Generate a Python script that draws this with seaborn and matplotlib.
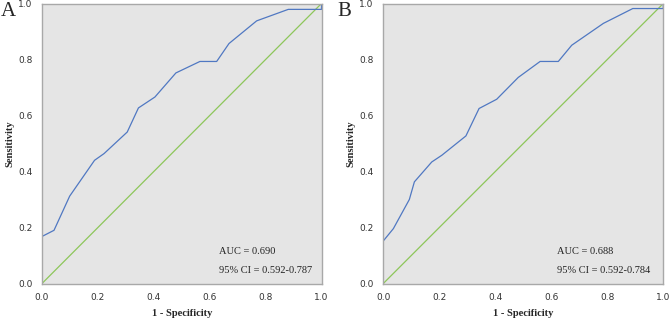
import matplotlib
matplotlib.use("Agg")
import matplotlib.pyplot as plt
import seaborn as sns
import pandas as pd

# ---- data ----
fpr_a = [0.0, 0.0, 0.043, 0.099, 0.188, 0.222, 0.305, 0.345, 0.404, 0.479, 0.565, 0.625, 0.669, 0.768, 0.881, 1.0, 1.0]
tpr_a = [0.0, 0.168, 0.190, 0.312, 0.440, 0.464, 0.541, 0.627, 0.666, 0.752, 0.793, 0.793, 0.857, 0.938, 0.979, 0.979, 1.0]
fpr_b = [0.0, 0.0, 0.036, 0.093, 0.111, 0.173, 0.209, 0.295, 0.342, 0.405, 0.482, 0.560, 0.625, 0.673, 0.786, 0.891, 1.0, 1.0]
tpr_b = [0.0, 0.152, 0.196, 0.300, 0.363, 0.434, 0.458, 0.527, 0.625, 0.658, 0.736, 0.793, 0.793, 0.851, 0.929, 0.982, 0.982, 1.0]
ref_line = [0.0, 1.0]
panels = ["A", "B"]
auc_text = ["AUC = 0.690", "AUC = 0.688"]
ci_text = ["95% CI = 0.592-0.787", "95% CI = 0.592-0.784"]
ticks = [0.0, 0.2, 0.4, 0.6, 0.8, 1.0]
tick_labels = ["0.0", "0.2", "0.4", "0.6", "0.8", "1.0"]

sns.set_style("white", {"axes.facecolor": "#E5E5E5", "axes.edgecolor": "#A8A8A8"})
plt.rcParams["font.family"] = ["DejaVu Sans"]

fig = plt.figure(figsize=(6.69, 3.2), dpi=100)
ax_a = fig.add_axes([42 / 669, 1 - 283.5 / 320, 279.5 / 669, 280 / 320])
ax_b = fig.add_axes([383.3 / 669, 1 - 283.5 / 320, 280 / 669, 280 / 320])

curves = [(fpr_a, tpr_a), (fpr_b, tpr_b)]
letter_x = [1 / 669, 337 / 669]
for i, ax in enumerate([ax_a, ax_b]):
    fx, ty = curves[i]
    df = pd.DataFrame({"fpr": fx, "tpr": ty})
    sns.lineplot(x=ref_line, y=ref_line, ax=ax, color="#8DC65A", lw=0.9, sort=False)
    sns.lineplot(data=df, x="fpr", y="tpr", ax=ax, color="#5078C2", lw=0.9,
                 sort=False, estimator=None)
    ax.set_xlim(0, 1)
    ax.set_ylim(0, 1)
    ax.set_xticks(ticks)
    ax.set_yticks(ticks)
    ax.set_xticklabels(tick_labels)
    ax.set_yticklabels(tick_labels)
    ax.tick_params(axis="both", direction="out", length=4, width=0.8, color="#A8A8A8",
                   labelsize=6.5, labelcolor="#333333", pad=3)
    for s in ax.spines.values():
        s.set_linewidth(1.0)
        s.set_color("#A8A8A8")
    ax.set_xlabel("1 - Specificity", family="Liberation Serif", fontweight="bold",
                  fontsize=7.6, labelpad=5)
    ax.set_ylabel("Sensitivity", family="Liberation Serif", fontweight="bold",
                  fontsize=7.6, labelpad=2.5)
    ax.text(0.634 if i == 0 else 0.619, 0.115, auc_text[i], family="Liberation Serif",
            fontsize=7.5, color="#222222", va="center", ha="left")
    ax.text(0.634 if i == 0 else 0.619, 0.048, ci_text[i], family="Liberation Serif",
            fontsize=7.5, color="#222222", va="center", ha="left")
    fig.text(letter_x[i], 1 - 2 / 320, panels[i], family="Liberation Serif",
             fontsize=15, va="top", ha="left")

fig.savefig("out.png", dpi=100)
